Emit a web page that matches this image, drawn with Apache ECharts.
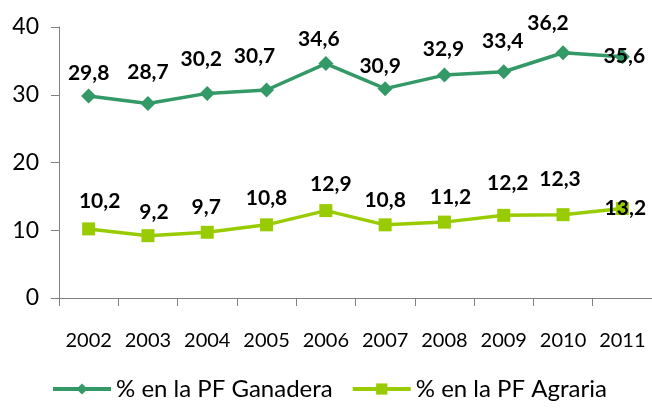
<!DOCTYPE html>
<html><head><meta charset="utf-8">
<script src="https://cdn.jsdelivr.net/npm/echarts@6/dist/echarts.min.js"></script>
<style>html,body{margin:0;padding:0;background:#fff}#c{width:652px;height:408px}</style>
</head><body><div id="c"></div>
<script>
const categories = ['2002','2003','2004','2005','2006','2007','2008','2009','2010','2011'];
const ganadera = [29.8, 28.7, 30.2, 30.7, 34.6, 30.9, 32.9, 33.4, 36.2, 35.6];
const agraria = [10.2, 9.2, 9.7, 10.8, 12.9, 10.8, 11.2, 12.2, 12.3, 13.2];
const seriesNames = ['% en la PF Ganadera', '% en la PF Agraria'];
const yTicks = [0, 10, 20, 30, 40];
// label offsets (layout only)
const ganOffsets = [[0,-23],[0,-31],[-6,-34],[-12,-34],[-7,-24],[-5,-22],[-1,-26],[-1,-30],[-15,-30],[2,-1]];
const agrOffsets = [[11,-28],[6,-23],[-1,-25],[0,-27],[5,-26],[0,-25],[6,-25],[4,-32],[-3,-35],[3,0]];
const FONT = 'Lato';
function fmt(v){ return String(v).replace('.', ','); }
function build(vals, offs){
  return vals.map((v,i)=>({value:v, label:{offset:offs[i]}}));
}
const chart = echarts.init(document.getElementById('c'));
chart.setOption({
  animation:false,
  textStyle:{fontFamily:FONT},
  grid:{left:59, top:27, width:595, height:271, containLabel:false},
  legend:{
    bottom:2, left:46, itemWidth:58, itemHeight:14, itemGap:18,
    lineStyle:{width:4},
    textStyle:{fontFamily:FONT, fontSize:24, color:'#000'},
    data:seriesNames
  },
  xAxis:{
    type:'category', data:categories, boundaryGap:true,
    axisLine:{lineStyle:{color:'#808080', width:1}},
    axisTick:{show:true, interval:0, length:8, lineStyle:{color:'#808080'}},
    axisLabel:{interval:0, hideOverlap:false, fontFamily:FONT, fontSize:20, color:'#000', margin:33}
  },
  yAxis:{
    type:'value', min:yTicks[0], max:yTicks[yTicks.length-1], interval:10,
    axisLine:{show:true, lineStyle:{color:'#808080', width:1}},
    axisTick:{show:true, length:8, lineStyle:{color:'#808080'}},
    splitLine:{show:false},
    axisLabel:{fontFamily:FONT, fontSize:23, color:'#000', margin:20}
  },
  series:[
    {
      name:seriesNames[0], type:'line', data:build(ganadera, ganOffsets),
      symbol:'diamond', symbolSize:15,
      lineStyle:{color:'#339966', width:3.5},
      itemStyle:{color:'#339966'},
      label:{show:true, position:'inside', fontFamily:FONT, fontWeight:'bold', fontSize:21, color:'#000',
        formatter:p=>fmt(p.value)}
    },
    {
      name:seriesNames[1], type:'line', data:build(agraria, agrOffsets),
      symbol:'rect', symbolSize:13,
      lineStyle:{color:'#99cc00', width:3.5},
      itemStyle:{color:'#99cc00'},
      label:{show:true, position:'inside', fontFamily:FONT, fontWeight:'bold', fontSize:21, color:'#000',
        formatter:p=>fmt(p.value)}
    }
  ]
});
</script></body></html>
